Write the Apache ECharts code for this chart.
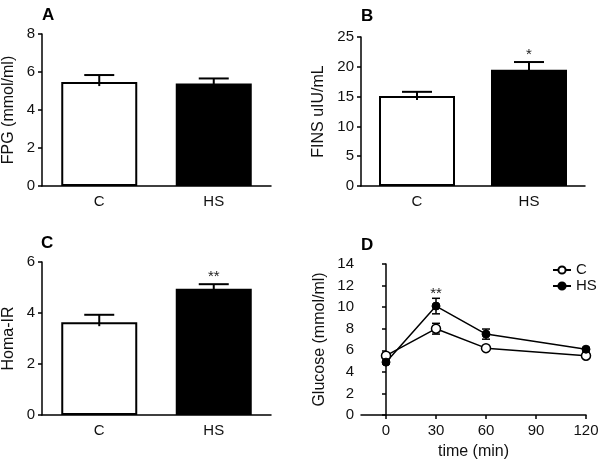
<!DOCTYPE html>
<html>
<head>
<meta charset="utf-8">
<script src="https://cdn.jsdelivr.net/npm/echarts@6/dist/echarts.min.js"></script>
<style>
  html, body { margin: 0; padding: 0; background: #fff; }
  #chart { width: 604px; height: 464px; }
</style>
</head>
<body>
<div id="chart"></div>
<script>
// groups
var groups = ['C', 'HS'];

// A: fasting plasma glucose
var fpgMean = [5.47, 5.39];
var fpgSem = [0.37, 0.27];
// B: fasting insulin
var finsMean = [15.1, 19.5];
var finsSem = [0.7, 1.3];
// C: Homa-IR
var homaMean = [3.64, 4.95];
var homaSem = [0.29, 0.18];
// D: glucose tolerance
var times = [0, 30, 60, 120];
var glucC = [5.5, 8.0, 6.2, 5.5];
var glucCSem = [0.15, 0.5, 0.15, 0.15];
var glucHS = [4.9, 10.1, 7.5, 6.1];
var glucHSSem = [0.15, 0.72, 0.47, 0.15];
var timeTicks = [0, 30, 60, 90, 120];

// significance marks: [category or time index, label]
var finsSig = [[1, '*']];
var homaSig = [[1, '**']];
var glucSig = [[1, '**']];   // index into times

var FONT = '"Liberation Sans", Arial, sans-serif';
var chart = echarts.init(document.getElementById('chart'));

var grids = [
  { left: 41, top: 34, width: 230, height: 152 },
  { left: 361, top: 37, width: 224, height: 149 },
  { left: 41, top: 262, width: 230, height: 153 },
  { left: 361, top: 264, width: 225, height: 151 }
];

var axisLineStyle = { color: '#000', width: 1.5 };

function catAxis (gi) {
  return {
    type: 'category', gridIndex: gi, data: groups,
    axisLine: { lineStyle: axisLineStyle },
    axisTick: { show: false },
    axisLabel: { color: '#111', fontSize: 15, fontFamily: FONT, margin: 8 }
  };
}

function valAxis (gi, max, interval, name, gap) {
  return {
    type: 'value', gridIndex: gi, min: 0, max: max, interval: interval,
    name: name, nameLocation: 'middle', nameGap: gap,
    nameTextStyle: { color: '#111', fontSize: 16, fontFamily: FONT },
    axisLine: { show: true, lineStyle: axisLineStyle },
    axisTick: { show: true, length: 4, lineStyle: axisLineStyle },
    splitLine: { show: false },
    axisLabel: { color: '#111', fontSize: 15, fontFamily: FONT, margin: 7 }
  };
}

function barSeries (gi, means) {
  return {
    type: 'bar', xAxisIndex: gi, yAxisIndex: gi, barWidth: 76,
    data: means.map(function (v, i) {
      return { value: v, itemStyle: { color: i === 0 ? '#fff' : '#000', borderColor: '#000', borderWidth: 2 } };
    }),
    z: 2
  };
}

// upper error bar for bars
function errUpSeries (gi, means, sems) {
  return {
    type: 'custom', xAxisIndex: gi, yAxisIndex: gi, z: 3,
    data: means.map(function (v, i) { return [i, v, sems[i]]; }),
    renderItem: function (params, api) {
      var x = api.value(0), m = api.value(1), s = api.value(2);
      var p0 = api.coord([x, m]);
      var p1 = api.coord([x, m + s]);
      var st = { stroke: '#000', lineWidth: 2 };
      return { type: 'group', children: [
        { type: 'line', shape: { x1: p0[0], y1: p0[1] + 4, x2: p1[0], y2: p1[1] }, style: st },
        { type: 'line', shape: { x1: p1[0] - 15, y1: p1[1], x2: p1[0] + 15, y2: p1[1] }, style: st }
      ] };
    }
  };
}

// symmetric error bars for the line panel
function errBothSeries (gi, xs, means, sems) {
  return {
    type: 'custom', xAxisIndex: gi, yAxisIndex: gi, z: 1,
    data: means.map(function (v, i) { return [xs[i], v, sems[i]]; }),
    renderItem: function (params, api) {
      var x = api.value(0), m = api.value(1), s = api.value(2);
      var pt = api.coord([x, m + s]);
      var pb = api.coord([x, m - s]);
      var st = { stroke: '#000', lineWidth: 1.5 };
      return { type: 'group', children: [
        { type: 'line', shape: { x1: pt[0], y1: pt[1], x2: pb[0], y2: pb[1] }, style: st },
        { type: 'line', shape: { x1: pt[0] - 4, y1: pt[1], x2: pt[0] + 4, y2: pt[1] }, style: st },
        { type: 'line', shape: { x1: pb[0] - 4, y1: pb[1], x2: pb[0] + 4, y2: pb[1] }, style: st }
      ] };
    }
  };
}

// significance stars above the error bar
function sigSeries (gi, sig, xOf, topOf, lift) {
  return {
    type: 'custom', xAxisIndex: gi, yAxisIndex: gi, z: 4,
    data: sig.map(function (s) { return [xOf(s[0]), topOf(s[0])]; }),
    renderItem: function (params, api) {
      var p = api.coord([api.value(0), api.value(1)]);
      var d = sig[params.dataIndex];
      return { type: 'text', x: p[0], y: p[1] - lift,
        style: { text: d[1], fill: '#222', font: '15px ' + FONT, textAlign: 'center', textVerticalAlign: 'bottom' } };
    }
  };
}

function ident (i) { return i; }

var option = {
  backgroundColor: '#fff',
  animation: false,
  textStyle: { fontFamily: FONT },
  title: [
    { text: 'A', left: 37, top: 2 },
    { text: 'B', left: 356, top: 3 },
    { text: 'C', left: 36, top: 230 },
    { text: 'D', left: 356, top: 232 }
  ].map(function (t) {
    t.textStyle = { fontSize: 17, fontWeight: 'bold', color: '#000', fontFamily: FONT };
    return t;
  }),
  legend: {
    orient: 'vertical', left: 547, top: 257, itemGap: 0,
    itemWidth: 18, itemHeight: 9,
    textStyle: { color: '#111', fontSize: 15, fontFamily: FONT, lineHeight: 16 },
    data: ['C', 'HS']
  },
  grid: grids,
  xAxis: [
    catAxis(0), catAxis(1), catAxis(2),
    {
      type: 'value', gridIndex: 3, min: -15, max: 120,
      name: 'time (min)', nameLocation: 'middle', nameGap: 29,
      nameTextStyle: { color: '#111', fontSize: 16, fontFamily: FONT },
      axisLine: { lineStyle: axisLineStyle },
      axisTick: { show: true, length: 4, lineStyle: axisLineStyle, customValues: timeTicks },
      axisLabel: { color: '#111', fontSize: 15, fontFamily: FONT, margin: 8, customValues: timeTicks },
      splitLine: { show: false }
    }
  ],
  yAxis: [
    valAxis(0, 8, 2, 'FPG (mmol/ml)', 25),
    valAxis(1, 25, 5, 'FINS uIU/mL', 34),
    valAxis(2, 6, 2, 'Homa-IR', 25),
    valAxis(3, 14, 2, 'Glucose (mmol/ml)', 33)
  ],
  series: [
    barSeries(0, fpgMean), errUpSeries(0, fpgMean, fpgSem),
    barSeries(1, finsMean), errUpSeries(1, finsMean, finsSem),
    sigSeries(1, finsSig, ident, function (i) { return finsMean[i] + finsSem[i]; }, 0),
    barSeries(2, homaMean), errUpSeries(2, homaMean, homaSem),
    sigSeries(2, homaSig, ident, function (i) { return homaMean[i] + homaSem[i]; }, 0),
    errBothSeries(3, times, glucC, glucCSem),
    errBothSeries(3, times, glucHS, glucHSSem),
    {
      name: 'C', type: 'line', xAxisIndex: 3, yAxisIndex: 3, z: 3,
      data: times.map(function (t, i) { return [t, glucC[i]]; }),
      symbol: 'circle', symbolSize: 9, showAllSymbol: true,
      lineStyle: { color: '#000', width: 1.5 },
      itemStyle: { color: '#fff', borderColor: '#000', borderWidth: 1.5 }
    },
    {
      name: 'HS', type: 'line', xAxisIndex: 3, yAxisIndex: 3, z: 3,
      data: times.map(function (t, i) { return [t, glucHS[i]]; }),
      symbol: 'circle', symbolSize: 8, showAllSymbol: true,
      lineStyle: { color: '#000', width: 1.5 },
      itemStyle: { color: '#000', borderColor: '#000', borderWidth: 1 }
    },
    sigSeries(3, glucSig, function (i) { return times[i]; }, function (i) { return glucHS[i] + glucHSSem[i]; }, -3)
  ]
};

chart.setOption(option);
</script>
</body>
</html>
